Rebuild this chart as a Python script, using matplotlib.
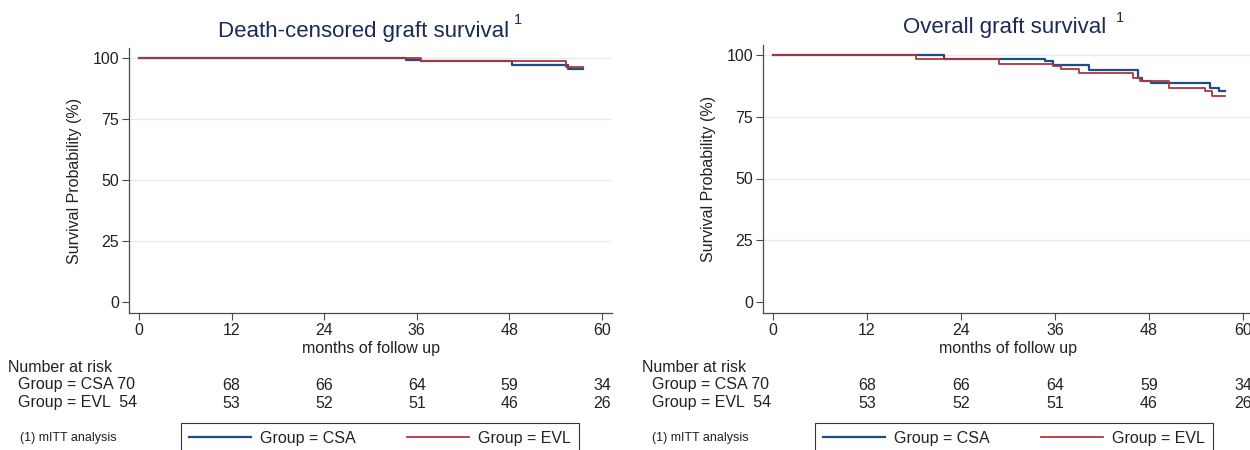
import matplotlib
matplotlib.use("Agg")
import matplotlib.pyplot as plt
from matplotlib import transforms

plt.rcParams['font.family'] = ['Liberation Sans', 'DejaVu Sans']

# ---------------- data ----------------
risk_times = [0, 12, 24, 36, 48, 60]
csa_at_risk = [70, 68, 66, 64, 59, 34]
evl_at_risk = [54, 53, 52, 51, 46, 26]

x_ticks = [0, 12, 24, 36, 48, 60]
y_ticks = [0, 25, 50, 75, 100]

# death-censored graft survival (Kaplan-Meier steps)
dc_csa_t = [0, 34.6, 36.6, 48.3, 55.6, 57.5]
dc_csa_s = [100, 99.0, 98.6, 97.0, 95.6, 95.6]
dc_evl_t = [0, 36.6, 55.3, 57.5]
dc_evl_s = [100, 98.6, 96.3, 96.3]

# overall graft survival
ov_csa_t = [0, 21.8, 34.7, 35.7, 40.4, 46.6, 47.1, 48.3, 55.8, 56.9, 57.7]
ov_csa_s = [100, 98.3, 97.4, 95.8, 94.1, 90.7, 89.3, 88.7, 86.6, 85.3, 85.3]
ov_evl_t = [0, 18.3, 28.9, 35.7, 36.8, 39.1, 46.0, 46.8, 50.5, 55.2, 56.0, 57.7]
ov_evl_s = [100, 98.3, 96.3, 95.6, 94.5, 92.7, 90.7, 89.3, 86.6, 85.3, 83.3, 83.3]

titles = ["Death-censored graft survival", "Overall graft survival"]
group_labels = ["Group = CSA", "Group = EVL"]

# ---------------- style ----------------
BLUE = "#1f4f82"
RED = "#b0363b"
AX = "#4a4a4a"
TITLE_C = "#1c2a58"
GRID = "#e4ebf2"
FS = 11.5

W, H = 1250, 450
fig = plt.figure(figsize=(12.5, 4.5), dpi=100)
fig.patch.set_facecolor("white")


def fx(px):
    return px / W


def fy(py):
    return 1 - py / H


panels = [
    dict(left=129, right=612, top=48, bottom=313, x0=139, x60=602, y100=58, y0=302,
         title_x=218, title_y=31, sup_x=514, sup_y=20, ylab_x=75,
         nar_x=8, row_x=18, foot_x=20, leg_x=181,
         data=(dc_csa_t, dc_csa_s, dc_evl_t, dc_evl_s)),
    dict(left=763, right=1253, top=45, bottom=313, x0=773, x60=1243, y100=55, y0=302,
         title_x=903, title_y=28, sup_x=1116, sup_y=18, ylab_x=708,
         nar_x=642, row_x=652, foot_x=652, leg_x=815,
         data=(ov_csa_t, ov_csa_s, ov_evl_t, ov_evl_s)),
]

for i, p in enumerate(panels):
    ax = fig.add_axes([fx(p['left']), fy(p['bottom']),
                       (p['right'] - p['left']) / W, (p['bottom'] - p['top']) / H])
    sx = (p['x60'] - p['x0']) / 60.0
    sy = (p['y0'] - p['y100']) / 100.0
    ax.set_xlim((p['left'] - p['x0']) / sx, (p['right'] - p['x0']) / sx)
    ax.set_ylim(-(p['bottom'] - p['y0']) / sy, 100 + (p['y100'] - p['top']) / sy)

    t1, s1, t2, s2 = p['data']
    l1, = ax.step(t1, s1, where='post', color=BLUE, lw=1.6, zorder=3)
    l2, = ax.step(t2, s2, where='post', color=RED, lw=1.3, zorder=4)

    ax.set_xticks(x_ticks)
    ax.set_yticks(y_ticks)
    ax.grid(axis='y', color=GRID, lw=1.0, zorder=0)
    ax.get_ygridlines()[0].set_visible(False)
    ax.set_axisbelow(True)
    for side in ('top', 'right'):
        ax.spines[side].set_visible(False)
    for side in ('left', 'bottom'):
        ax.spines[side].set_color(AX)
        ax.spines[side].set_linewidth(0.9)
    ax.tick_params(direction='out', length=5, width=0.8, color=AX,
                   labelsize=FS, pad=2, labelcolor="#222222")
    ax.set_xlabel("months of follow up", fontsize=FS, labelpad=2, color="#222222")

    # y label
    fig.text(fx(p['ylab_x']), fy((p['top'] + p['bottom']) / 2), "Survival Probability (%)",
             rotation=90, ha='center', va='center', fontsize=FS, color="#222222")

    # title
    fig.text(fx(p['title_x']), fy(p['title_y']), titles[i], ha='left', va='center',
             fontsize=16, color=TITLE_C)
    fig.text(fx(p['sup_x']), fy(p['sup_y']), "1", ha='left', va='center',
             fontsize=10.5, color=TITLE_C)

    # number at risk table
    fig.text(fx(p['nar_x']), fy(367), "Number at risk", ha='left', va='center',
             fontsize=FS, color="#222222")
    fig.text(fx(p['row_x']), fy(385), f"{group_labels[0]} {csa_at_risk[0]}",
             ha='left', va='center', fontsize=FS, color="#222222")
    fig.text(fx(p['row_x']), fy(403), f"{group_labels[1]}  {evl_at_risk[0]}",
             ha='left', va='center', fontsize=FS, color="#222222")
    trans = transforms.blended_transform_factory(ax.transData, fig.transFigure)
    for t, a, b in zip(risk_times[1:], csa_at_risk[1:], evl_at_risk[1:]):
        fig.text(t, fy(385), str(a), transform=trans, ha='center', va='center',
                 fontsize=FS, color="#222222")
        fig.text(t, fy(403), str(b), transform=trans, ha='center', va='center',
                 fontsize=FS, color="#222222")

    # footnote
    fig.text(fx(p['foot_x']), fy(438), "(1) mITT analysis", ha='left', va='center',
             fontsize=9, color="#222222")

    # legend
    leg = fig.legend([l1, l2], group_labels, loc='upper left',
                     bbox_to_anchor=(fx(p['leg_x']), fy(423)), ncol=2,
                     frameon=True, fancybox=False, edgecolor="#333333", framealpha=1,
                     fontsize=FS, handlelength=3.9, handletextpad=0.55,
                     columnspacing=3.2, borderpad=0.5, borderaxespad=0)
    leg.get_frame().set_linewidth(0.8)
    for txt in leg.get_texts():
        txt.set_color("#222222")

fig.savefig("out.png", dpi=100, facecolor="white")
